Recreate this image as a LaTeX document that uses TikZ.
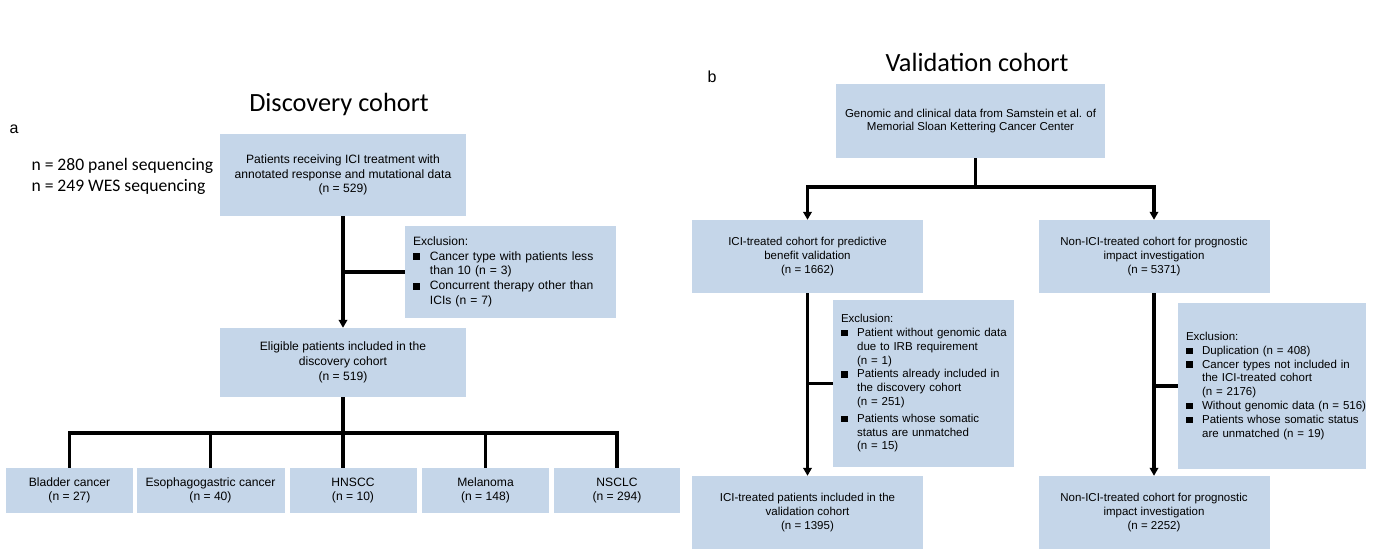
\documentclass[tikz,border=0pt]{standalone}
\usepackage{fontspec}
\setmainfont{Liberation Sans}
\newfontfamily\calfont{Carlito}
\usetikzlibrary{arrows.meta,positioning}

\definecolor{boxblue}{RGB}{197,214,233}

% bullet and hanging indent for the exclusion lists
\newcommand{\exbul}{\makebox[1.4em][l]{\rule{0.58em}{0.58em}}}
\newcommand{\exind}{\hspace*{1.4em}}

\begin{document}
\begin{tikzpicture}[x=1pt,y=-1pt,
  box/.style={fill=boxblue, inner sep=0pt, align=center},
  lbox/.style={box, font=\fontsize{12.1}{14.7}\selectfont},
  rbox/.style={box, font=\fontsize{11.5}{13.8}\selectfont},
  exbox/.style={fill=boxblue, inner xsep=8pt, inner ysep=0pt, align=left},
  line/.style={line width=3.2pt},
  arrow/.style={line, -{Triangle[length=8pt,width=8.5pt]}},
  title/.style={font=\calfont\fontsize{26.3}{30}\selectfont},
  panel/.style={font=\fontsize{16}{18}\selectfont}]

\useasboundingbox (0,0) rectangle (1376,557);

% Discovery cohort
\node[title] (dtitle) at (339,104) {Discovery cohort};
\node[panel] (plabela) at (14,129) {a};
\node[anchor=west, align=left, font=\calfont\fontsize{17.6}{21}\selectfont] (nseq) at (28,176) {n = 280 panel sequencing\\n = 249 WES sequencing};

\node[lbox, minimum width=246pt, minimum height=82pt] (pats) at (343,175) {Patients receiving ICI treatment with\\annotated response and mutational data\\(n = 529)};
\node[exbox, font=\fontsize{12.1}{14.7}\selectfont, text width=195pt, minimum height=92pt] (exd) at (510.5,272) {\begin{tabular}{@{}l@{}}Exclusion:\\
  \exbul Cancer type with patients less\\
  \exind than 10 (n = 3)\\
  \exbul Concurrent therapy other than\\
  \exind ICIs (n = 7)\end{tabular}};
\node[lbox, minimum width=246pt, minimum height=69pt] (elig) at (343,362.5) {Eligible patients included in the\\discovery cohort\\(n = 519)};

% cancer types
\node[lbox, minimum width=127pt, minimum height=45pt] (bladder) at (69.5,490.5) {Bladder cancer\\(n = 27)};
\node[lbox, minimum width=148pt, minimum height=45pt] (esoph) at (210.5,490.5) {Esophagogastric cancer\\(n = 40)};
\node[lbox, minimum width=127pt, minimum height=45pt] (hnscc) at (353,490.5) {HNSCC\\(n = 10)};
\node[lbox, minimum width=127pt, minimum height=45pt] (melan) at (485.5,490.5) {Melanoma\\(n = 148)};
\node[lbox, minimum width=126pt, minimum height=45pt] (nsclc) at (617,490.5) {NSCLC\\(n = 294)};

\draw[arrow] (pats) -- (elig);
\draw[line] (exd.west) -- (exd.west -| pats.south);
\coordinate (dbus) at (343,433);
\draw[line] (elig) -- (dbus |- hnscc.north);
\draw[line] (bladder.north) |- (dbus) -| (nsclc.north);
\draw[line] (esoph.north |- dbus) -- (esoph.north);
\draw[line] (melan.north |- dbus) -- (melan.north);

% Validation cohort
\node[title] (vtitle) at (977,62) {Validation cohort};
\node[panel] (plabelb) at (712,77) {b};

\node[rbox, minimum width=269pt, minimum height=74pt] (gen) at (970.5,121) {Genomic and clinical data from Samstein et al. of\\Memorial Sloan Kettering Cancer Center};
\node[rbox, minimum width=231pt, minimum height=73pt] (ici) at (807.5,256.5) {ICI-treated cohort for predictive\\benefit validation\\(n = 1662)};
\node[rbox, minimum width=231pt, minimum height=73pt] (nonici) at (1154,256.5) {Non-ICI-treated cohort for prognostic\\impact investigation\\(n = 5371)};

\node[exbox, font=\fontsize{11.5}{13.8}\selectfont, text width=165pt, minimum height=167pt] (exv1) at (923.5,383.5) {\begin{tabular}{@{}l@{}}Exclusion:\\
  \exbul Patient without genomic data\\
  \exind due to IRB requirement\\
  \exind (n = 1)\\
  \exbul Patients already included in\\
  \exind the discovery cohort\\
  \exind (n = 251)\\[3pt]
  \exbul Patients whose somatic\\
  \exind status are unmatched\\
  \exind (n = 15)\end{tabular}};
\node[exbox, font=\fontsize{11.5}{13.8}\selectfont, text width=172pt, minimum height=166pt] (exv2) at (1272,386) {\begin{tabular}{@{}l@{}}Exclusion:\\
  \exbul Duplication (n = 408)\\
  \exbul Cancer types not included in\\
  \exind the ICI-treated cohort\\
  \exind (n = 2176)\\
  \exbul Without genomic data (n = 516)\\
  \exbul Patients whose somatic status\\
  \exind are unmatched (n = 19)\end{tabular}};

\node[rbox, minimum width=231pt, minimum height=73pt] (icipat) at (807.5,512.5) {ICI-treated patients included in the\\validation cohort\\(n = 1395)};
\node[rbox, minimum width=231pt, minimum height=73pt] (nonpat) at (1154,512.5) {Non-ICI-treated cohort for prognostic\\impact investigation\\(n = 2252)};

\coordinate (vbus) at (975.5,187);
\draw[line] (vbus |- gen.south) -- (vbus);
\draw[arrow] (vbus) -| (ici.north);
\draw[arrow] (vbus) -| (nonici.north);
\draw[arrow] (ici) -- (icipat);
\draw[arrow] (nonici) -- (nonpat);
\draw[line] (exv1.west) -- (exv1.west -| ici.south);
\draw[line] (exv2.west) -- (exv2.west -| nonici.south);

\end{tikzpicture}
\end{document}
